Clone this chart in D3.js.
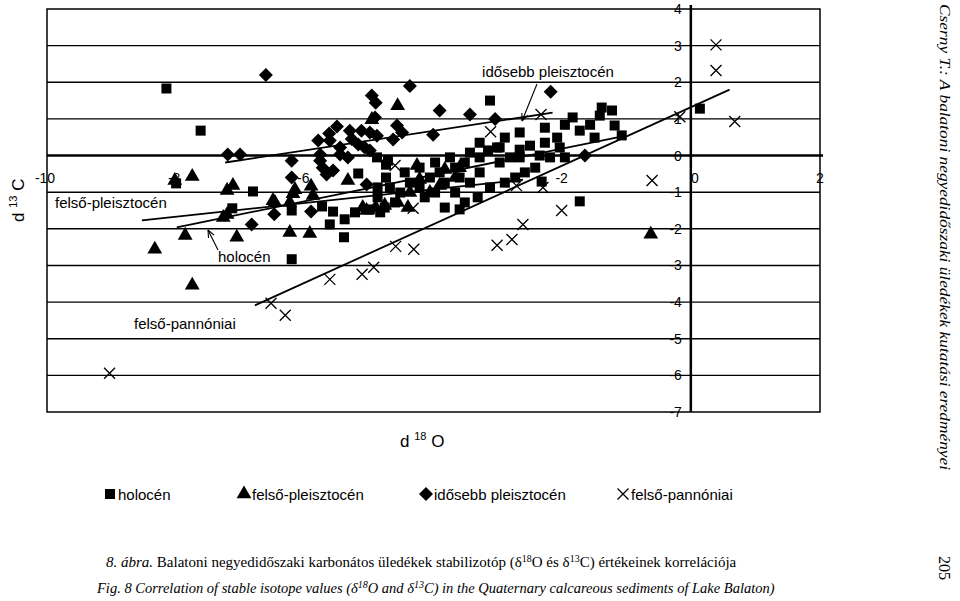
<!DOCTYPE html>
<html><head><meta charset="utf-8">
<script src="https://cdn.jsdelivr.net/npm/d3@7"></script>
<style>body{margin:0;background:#fff}svg{display:block}</style>
</head><body>
<svg id="chart" width="960" height="601"></svg>
<script>
// d18O, d13C
const holocen = [[-3.11,1.5],[-1.56,0.84],[-1.72,0.68],[-1.49,0.49],[-1.41,1.09],[-1.38,1.31],[-1.22,1.23],[-1.83,1.04],[-1.95,0.84],[-2.07,0.49],[-2.26,0.35],[-2.49,0.27],[-2.65,0.63],[-2.88,0.49],[-3.0,0.22],[-3.14,0.14],[-3.27,-0.05],[-3.42,0.08],[-3.5,-0.19],[-3.65,-0.33],[-3.58,-0.6],[-3.42,-0.74],[-3.27,-0.46],[-2.96,-0.19],[-2.8,-0.05],[-2.65,-0.05],[-2.34,0],[-2.18,-0.05],[-1.95,-0.05],[-2.41,-0.33],[-2.57,-0.46],[-2.72,-0.6],[-2.88,-0.74],[-3.11,-0.87],[-3.3,-1.14],[-3.5,-1.28],[-3.65,-1.01],[-3.81,-0.74],[-3.89,-0.46],[-4.04,-0.6],[-4.2,-0.87],[-4.12,-1.14],[-3.96,-1.01],[-4.35,-0.74],[-4.5,-1.01],[-4.58,-1.28],[-4.74,-1.42],[-4.81,-1.55],[-4.97,-1.47],[-4.85,-1.14],[-4.66,-0.87],[-4.43,-0.46],[-4.2,-0.33],[-3.96,-0.19],[-3.73,-0.05],[-3.27,0.35],[-2.96,0.22],[-2.65,0.16],[-2.26,0.76],[-1.18,0.82],[-2.03,0.22],[-2.31,-0.71],[-3.81,-1.42],[-3.58,-1.47],[-5.2,-1.55],[-5.36,-1.74],[-5.54,-1.53],[-5.71,-1.39],[-5.15,-0.49],[-4.69,-0.14],[-4.72,-0.6],[-4.85,-0.87],[-8.12,1.83],[-7.59,0.68],[-7.97,-0.76],[-6.78,-0.98],[-7.1,-1.44],[-6.18,-2.83],[-5.37,-2.23],[-1.72,-1.25],[0.14,1.28],[-1.07,0.55],[-6.18,-1.5],[-5.59,-1.88],[-4.86,-0.05],[-4.72,-0.25]];
const felsoPleisztocen = [[-8.3,-2.56],[-7.72,-3.54],[-7.83,-2.18],[-7.03,-2.23],[-7.72,-0.57],[-7.99,-0.68],[-7.18,-1.61],[-7.09,-0.82],[-6.16,-1.04],[-6.21,-1.28],[-5.88,-0.84],[-6.44,-1.28],[-5.9,-2.13],[-6.21,-2.1],[-5.31,-0.68],[-4.54,1.36],[-4.94,0.98],[-0.62,-2.15],[-4.24,-0.27],[-5.02,-1.5],[-6.13,-0.93],[-5.85,-1.09],[-7.18,-0.95],[-7.24,-1.69],[-6.47,-1.23],[-5.08,-1.42],[-4.2,-0.65],[-3.89,-0.82],[-3.65,-0.6],[-4.35,-1.01],[-4.54,-1.28],[-4.74,-1.36],[-4.88,-1.42],[-4.04,-1.01],[-3.58,-0.33],[-3.81,-0.38],[-4.38,-1.42]];
const idosebbPleisztocen = [[-6.58,2.2],[-4.35,1.9],[-2.17,1.74],[-4.94,1.64],[-4.88,1.44],[-7.17,0.03],[-6.98,0.03],[-6.18,-0.6],[-6.45,-1.6],[-6.8,-1.88],[-5.88,-1.53],[-3.89,1.23],[-3.42,1.12],[-3.99,0.57],[-3.03,1.0],[-1.64,0],[-4.55,0.82],[-4.47,0.63],[-5.77,0.41],[-5.48,0.79],[-5.28,0.68],[-5.1,0.68],[-4.97,0.63],[-4.86,0.54],[-5.59,0.41],[-5.43,0.03],[-5.31,-0.05],[-5.7,-0.33],[-5.64,-0.52],[-6.18,-0.14],[-4.97,0.14],[-4.61,0.44],[-4.89,1.04],[-5.43,0.22],[-5.15,0.3],[-5.05,0.22],[-5.74,-0.14],[-5.54,-0.41],[-5.02,-0.79],[-5.74,0.03],[-5.25,0.45],[-5.6,0.6]];
const felsoPannoniai = [[-9.0,-5.94],[0.39,3.02],[0.39,2.32],[0.68,0.93],[-0.17,1.06],[-0.6,-0.68],[-2.0,-1.5],[-2.6,-1.88],[-2.77,-2.29],[-3.0,-2.45],[-4.29,-2.56],[-4.57,-2.48],[-4.91,-3.05],[-5.09,-3.24],[-5.59,-3.38],[-6.5,-4.03],[-6.28,-4.36],[-3.1,0.65],[-2.29,-0.87],[-2.7,-0.82],[-4.3,-1.44],[-4.58,-0.27],[-2.32,1.12]];
const trendLines = [
  {name: "holocén", pts: [[-7.96,-1.96],[-1.02,0.54]]},
  {name: "felső-pleisztocén", pts: [[-8.5,-1.77],[-2.6,-0.66]]},
  {name: "idősebb pleisztocén", pts: [[-7.21,-0.19],[-2.14,1.17]]},
  {name: "felső-pannóniai", pts: [[-6.75,-4.09],[0.6,1.8]]}
];
const xTicks = [-10,-8,-6,-2,2];
const yTicks = [4,3,2,1,0,-1,-2,-3,-4,-5,-6,-7];

const svg = d3.select("#chart");
const x = d3.scaleLinear().domain([-10,2]).range([45,820]);
const y = d3.scaleLinear().domain([-7,4]).range([412,9]);
const sans = "Arial, 'Liberation Sans', sans-serif";
const serif = "'Liberation Serif', 'DejaVu Serif', serif";

// frame and grid
svg.append("rect").attr("x",47).attr("y",y(4)).attr("width",773).attr("height",y(-7)-y(4))
  .attr("fill","none").attr("stroke","#000").attr("stroke-width",1.5);
svg.append("g").selectAll("line").data(yTicks.filter(d=>d>-7&&d<4)).join("line")
  .attr("x1",47).attr("x2",d=>d===0?823:820).attr("y1",d=>y(d)).attr("y2",d=>y(d))
  .attr("stroke","#000").attr("stroke-width",d=>d===0?2.5:1.4);
svg.append("line").attr("x1",x(0)).attr("x2",x(0)).attr("y1",5).attr("y2",412)
  .attr("stroke","#000").attr("stroke-width",2.5);

svg.append("g").selectAll("text").data(yTicks).join("text")
  .attr("x",x(0)-9).attr("y",d=>y(d)+5).attr("text-anchor","end")
  .attr("font-family",sans).attr("font-size",14).text(d=>d);
svg.append("g").selectAll("text").data(xTicks).join("text")
  .attr("x",d=>x(d)).attr("y",y(0)+27).attr("text-anchor","middle")
  .attr("font-family",sans).attr("font-size",14).text(d=>d);
svg.append("text").attr("x",x(0)+4).attr("y",y(0)+27).attr("text-anchor","middle")
  .attr("font-family",sans).attr("font-size",14).text("0");

// trend lines
svg.append("g").selectAll("line").data(trendLines).join("line")
  .attr("x1",d=>x(d.pts[0][0])).attr("y1",d=>y(d.pts[0][1]))
  .attr("x2",d=>x(d.pts[1][0])).attr("y2",d=>y(d.pts[1][1]))
  .attr("stroke","#000").attr("stroke-width",1.8);

// points
const sq = d3.symbol().type(d3.symbolSquare).size(100)();
const tri = d3.symbol().type(d3.symbolTriangle).size(95)();
const dia = "M0,-7L7,0L0,7L-7,0Z";
function pts(data, p){
  svg.append("g").selectAll("path").data(data).join("path")
    .attr("d",p).attr("transform",d=>`translate(${x(d[0])},${y(d[1])})`).attr("fill","#000");
}
pts(holocen, sq);
pts(felsoPleisztocen, tri);
pts(idosebbPleisztocen, dia);
const crossPath = "M-5.5,-5.5L5.5,5.5M-5.5,5.5L5.5,-5.5";
svg.append("g").selectAll("path").data(felsoPannoniai).join("path")
  .attr("d",crossPath).attr("transform",d=>`translate(${x(d[0])},${y(d[1])})`)
  .attr("stroke","#000").attr("stroke-width",1.3).attr("fill","none");

// annotations
function label(tx, ty, t, anchor){
  const el = svg.append("text").attr("x",tx).attr("y",ty).attr("text-anchor",anchor)
    .attr("font-family",sans).attr("font-size",15).text(t);
  const b = el.node().getBBox();
  svg.insert("rect", () => el.node()).attr("x",b.x-2).attr("y",b.y+1).attr("width",b.width+4).attr("height",b.height-2).attr("fill","#fff");
}
label(548,77,"idősebb pleisztocén","middle");
label(55,208,"felső-pleisztocén","start");
label(218,262,"holocén","start");
label(134,329,"felső-pannóniai","start");
const arrows = [[537,84,522,121],[218,250,208,230]];
svg.append("g").selectAll("line").data(arrows).join("line")
  .attr("x1",d=>d[0]).attr("y1",d=>d[1]).attr("x2",d=>d[2]).attr("y2",d=>d[3])
  .attr("stroke","#000").attr("stroke-width",1.1);
arrows.forEach(a=>{
  const ang = Math.atan2(a[3]-a[1],a[2]-a[0]);
  const l=8, w=0.4;
  svg.append("path").attr("d",`M${a[2]},${a[3]}L${a[2]-l*Math.cos(ang-w)},${a[3]-l*Math.sin(ang-w)}M${a[2]},${a[3]}L${a[2]-l*Math.cos(ang+w)},${a[3]-l*Math.sin(ang+w)}`)
    .attr("stroke","#000").attr("stroke-width",1.1).attr("fill","none");
});

// axis titles
const xt = svg.append("text").attr("x",400).attr("y",447).attr("font-family",sans).attr("font-size",17);
xt.append("tspan").text("d ");
xt.append("tspan").attr("font-size",11).attr("dy",-7).text("18");
xt.append("tspan").attr("dy",7).text(" O");
const yt = svg.append("text").attr("transform","translate(24,222) rotate(-90)").attr("font-family",sans).attr("font-size",17);
yt.append("tspan").text("d ");
yt.append("tspan").attr("font-size",11).attr("dy",-7).text("13");
yt.append("tspan").attr("dy",7).text(" C");

// legend
const legend = [
  {t:"holocén", x:110, p:sq},
  {t:"felső-pleisztocén", x:244, p:tri},
  {t:"idősebb pleisztocén", x:426, p:dia},
  {t:"felső-pannóniai", x:623, p:crossPath, cross:true}
];
const lg = svg.append("g").selectAll("g").data(legend).join("g").attr("transform",d=>`translate(${d.x},494)`);
lg.append("path").attr("d",d=>d.p).attr("fill",d=>d.cross?"none":"#000")
  .attr("stroke",d=>d.cross?"#000":"none").attr("stroke-width",1.3);
lg.append("text").attr("x",8).attr("y",6).attr("font-family",sans).attr("font-size",15).text(d=>d.t);

// captions
const c1 = svg.append("text").attr("x",106).attr("y",567).attr("font-family",serif).attr("font-size",15);
c1.append("tspan").attr("font-style","italic").text("8. ábra.");
c1.append("tspan").text(" Balatoni negyedidőszaki karbonátos üledékek stabilizotóp (δ");
c1.append("tspan").attr("font-size",10).attr("dy",-5).text("18");
c1.append("tspan").attr("dy",5).text("O és δ");
c1.append("tspan").attr("font-size",10).attr("dy",-5).text("13");
c1.append("tspan").attr("dy",5).text("C) értékeinek korrelációja");
const c2 = svg.append("text").attr("x",97).attr("y",593).attr("font-family",serif).attr("font-size",14.5).attr("font-style","italic");
c2.append("tspan").text("Fig. 8 Correlation of stable isotope values (δ");
c2.append("tspan").attr("font-size",10).attr("dy",-5).text("18");
c2.append("tspan").attr("dy",5).text("O and δ");
c2.append("tspan").attr("font-size",10).attr("dy",-5).text("13");
c2.append("tspan").attr("dy",5).text("C) in the Quaternary calcareous sediments of Lake Balaton)");

svg.append("text").attr("transform","translate(940,4) rotate(90)").attr("font-family",serif)
  .attr("font-size",15).attr("font-style","italic").attr("textLength",466).attr("lengthAdjust","spacingAndGlyphs")
  .text("Cserny T.: A balatoni negyedidőszaki üledékek kutatási eredményei");
svg.append("text").attr("transform","translate(939,556) rotate(90)").attr("font-family",serif)
  .attr("font-size",16).text("205");
</script>
</body></html>
